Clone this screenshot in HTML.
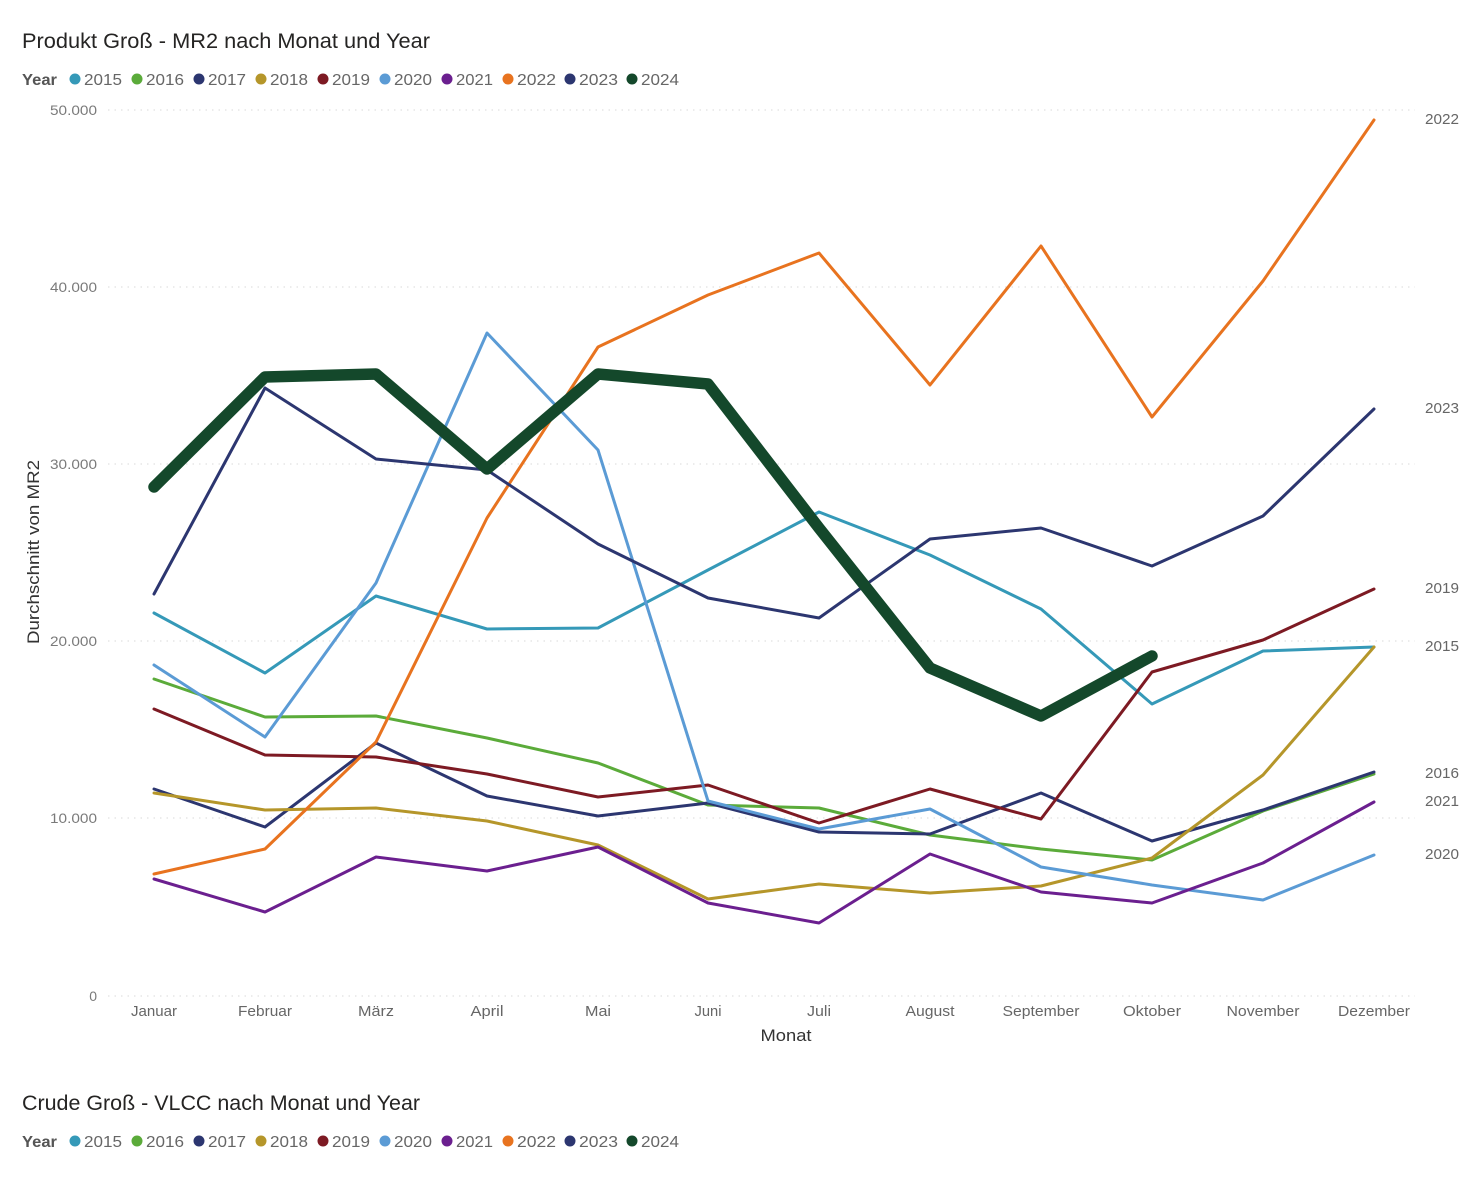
<!DOCTYPE html>
<html>
<head>
<meta charset="utf-8">
<style>
  html, body { margin:0; padding:0; background:#ffffff; }
  body { width:1472px; height:1177px; overflow:hidden; }
  svg { display:block; font-family:"Liberation Sans", "DejaVu Sans", sans-serif; }
</style>
</head>
<body>
<svg width="1472" height="1177" viewBox="0 0 1472 1177" xmlns="http://www.w3.org/2000/svg">
  <rect x="0" y="0" width="1472" height="1177" fill="#ffffff"/>

  <!-- Title -->
  <text x="22" y="48" font-size="21" fill="#252423" textLength="408" lengthAdjust="spacingAndGlyphs">Produkt Groß - MR2 nach Monat und Year</text>

  <!-- Legend -->
  <g font-size="16" fill="#666666">
    <text x="22" y="85" font-weight="bold" fill="#555555" textLength="35" lengthAdjust="spacingAndGlyphs">Year</text>
    <circle cx="75" cy="79" r="5.5" fill="#3599b8"/><text x="84" y="85" textLength="38" lengthAdjust="spacingAndGlyphs">2015</text>
    <circle cx="137" cy="79" r="5.5" fill="#5bab3a"/><text x="146" y="85" textLength="38" lengthAdjust="spacingAndGlyphs">2016</text>
    <circle cx="199" cy="79" r="5.5" fill="#2c3670"/><text x="208" y="85" textLength="38" lengthAdjust="spacingAndGlyphs">2017</text>
    <circle cx="261" cy="79" r="5.5" fill="#b5962a"/><text x="270" y="85" textLength="38" lengthAdjust="spacingAndGlyphs">2018</text>
    <circle cx="323" cy="79" r="5.5" fill="#7d1a23"/><text x="332" y="85" textLength="38" lengthAdjust="spacingAndGlyphs">2019</text>
    <circle cx="385" cy="79" r="5.5" fill="#5b9bd5"/><text x="394" y="85" textLength="38" lengthAdjust="spacingAndGlyphs">2020</text>
    <circle cx="447" cy="79" r="5.5" fill="#6b1f8f"/><text x="456" y="85" textLength="37" lengthAdjust="spacingAndGlyphs">2021</text>
    <circle cx="508" cy="79" r="5.5" fill="#e8731f"/><text x="517" y="85" textLength="39" lengthAdjust="spacingAndGlyphs">2022</text>
    <circle cx="570" cy="79" r="5.5" fill="#2c3670"/><text x="579" y="85" textLength="39" lengthAdjust="spacingAndGlyphs">2023</text>
    <circle cx="632" cy="79" r="5.5" fill="#14482b"/><text x="641" y="85" textLength="38" lengthAdjust="spacingAndGlyphs">2024</text>
  </g>

  <!-- Gridlines -->
  <g stroke="#d9d9d9" stroke-width="1" stroke-dasharray="1.5 5">
    <line x1="108" y1="110" x2="1415" y2="110"/>
    <line x1="108" y1="287" x2="1415" y2="287"/>
    <line x1="108" y1="464" x2="1415" y2="464"/>
    <line x1="108" y1="641" x2="1415" y2="641"/>
    <line x1="108" y1="818" x2="1415" y2="818"/>
    <line x1="108" y1="996" x2="1415" y2="996"/>
  </g>

  <!-- Y tick labels -->
  <g font-size="14" fill="#7a7a7a" text-anchor="end">
    <text x="97" y="115" textLength="47" lengthAdjust="spacingAndGlyphs">50.000</text>
    <text x="97" y="292" textLength="47" lengthAdjust="spacingAndGlyphs">40.000</text>
    <text x="97" y="469" textLength="47" lengthAdjust="spacingAndGlyphs">30.000</text>
    <text x="97" y="646" textLength="47" lengthAdjust="spacingAndGlyphs">20.000</text>
    <text x="97" y="823" textLength="47" lengthAdjust="spacingAndGlyphs">10.000</text>
    <text x="97" y="1001">0</text>
  </g>

  <!-- Y axis title -->
  <text transform="translate(39,552) rotate(-90)" font-size="17" fill="#333333" text-anchor="middle" textLength="184" lengthAdjust="spacingAndGlyphs">Durchschnitt von MR2</text>

  <!-- X tick labels -->
  <g font-size="15" fill="#666666" text-anchor="middle">
    <text x="154" y="1016" textLength="46" lengthAdjust="spacingAndGlyphs">Januar</text>
    <text x="265" y="1016" textLength="54" lengthAdjust="spacingAndGlyphs">Februar</text>
    <text x="376" y="1016" textLength="36" lengthAdjust="spacingAndGlyphs">März</text>
    <text x="487" y="1016" textLength="33" lengthAdjust="spacingAndGlyphs">April</text>
    <text x="598" y="1016" textLength="26" lengthAdjust="spacingAndGlyphs">Mai</text>
    <text x="708" y="1016" textLength="27" lengthAdjust="spacingAndGlyphs">Juni</text>
    <text x="819" y="1016" textLength="24" lengthAdjust="spacingAndGlyphs">Juli</text>
    <text x="930" y="1016" textLength="49" lengthAdjust="spacingAndGlyphs">August</text>
    <text x="1041" y="1016" textLength="77" lengthAdjust="spacingAndGlyphs">September</text>
    <text x="1152" y="1016" textLength="58" lengthAdjust="spacingAndGlyphs">Oktober</text>
    <text x="1263" y="1016" textLength="73" lengthAdjust="spacingAndGlyphs">November</text>
    <text x="1374" y="1016" textLength="72" lengthAdjust="spacingAndGlyphs">Dezember</text>
  </g>

  <!-- X axis title -->
  <text x="786" y="1041" font-size="17" fill="#333333" text-anchor="middle" textLength="51" lengthAdjust="spacingAndGlyphs">Monat</text>

  <!-- Series -->
  <g fill="none" stroke-width="3" stroke-linejoin="round" stroke-linecap="round">
    <polyline stroke="#3599b8" points="154,613 265,673 376,596 487,629 598,628 708,570 819,512 930,555 1041,609 1152,704 1263,651 1374,647"/>
    <polyline stroke="#5bab3a" points="154,679 265,717 376,716 487,738 598,763 708,805 819,808 930,835 1041,849 1152,860 1263,811 1374,774"/>
    <polyline stroke="#2c3670" points="154,789 265,827 376,743 487,796 598,816 708,803 819,832 930,834 1041,793 1152,841 1263,810 1374,772"/>
    <polyline stroke="#b5962a" points="154,793 265,810 376,808 487,821 598,845 708,899 819,884 930,893 1041,886 1152,858 1263,775 1374,647"/>
    <polyline stroke="#7d1a23" points="154,709 265,755 376,757 487,774 598,797 708,785 819,823 930,789 1041,819 1152,672 1263,640 1374,589"/>
    <polyline stroke="#5b9bd5" points="154,665 265,737 376,583 487,333 598,450 708,801 819,829 930,809 1041,867 1152,885 1263,900 1374,855"/>
    <polyline stroke="#6b1f8f" points="154,879 265,912 376,857 487,871 598,847 708,903 819,923 930,854 1041,892 1152,903 1263,863 1374,802"/>
    <polyline stroke="#e8731f" points="154,874 265,849 376,742 487,518 598,347 708,295 819,253 930,385 1041,246 1152,417 1263,281 1374,120"/>
    <polyline stroke="#2c3670" points="154,594 265,388 376,459 487,470 598,544 708,598 819,618 930,539 1041,528 1152,566 1263,516 1374,409"/>
    <polyline stroke="#14482b" stroke-width="11.5" points="154,487 265,377 376,374 487,469 598,374 708,384 819,528 930,668 1041,716 1152,656"/>
  </g>

  <!-- Right-side labels -->
  <g font-size="15" fill="#666666">
    <text x="1425" y="124" textLength="34" lengthAdjust="spacingAndGlyphs">2022</text>
    <text x="1425" y="413" textLength="34" lengthAdjust="spacingAndGlyphs">2023</text>
    <text x="1425" y="593" textLength="34" lengthAdjust="spacingAndGlyphs">2019</text>
    <text x="1425" y="651" textLength="34" lengthAdjust="spacingAndGlyphs">2015</text>
    <text x="1425" y="778" textLength="34" lengthAdjust="spacingAndGlyphs">2016</text>
    <text x="1425" y="806" textLength="34" lengthAdjust="spacingAndGlyphs">2021</text>
    <text x="1425" y="859" textLength="34" lengthAdjust="spacingAndGlyphs">2020</text>
  </g>

  <!-- Second chart title -->
  <text x="22" y="1110" font-size="21" fill="#252423" textLength="398" lengthAdjust="spacingAndGlyphs">Crude Groß - VLCC nach Monat und Year</text>

  <!-- Second legend -->
  <g font-size="16" fill="#666666">
    <text x="22" y="1147" font-weight="bold" fill="#555555" textLength="35" lengthAdjust="spacingAndGlyphs">Year</text>
    <circle cx="75" cy="1141" r="5.5" fill="#3599b8"/><text x="84" y="1147" textLength="38" lengthAdjust="spacingAndGlyphs">2015</text>
    <circle cx="137" cy="1141" r="5.5" fill="#5bab3a"/><text x="146" y="1147" textLength="38" lengthAdjust="spacingAndGlyphs">2016</text>
    <circle cx="199" cy="1141" r="5.5" fill="#2c3670"/><text x="208" y="1147" textLength="38" lengthAdjust="spacingAndGlyphs">2017</text>
    <circle cx="261" cy="1141" r="5.5" fill="#b5962a"/><text x="270" y="1147" textLength="38" lengthAdjust="spacingAndGlyphs">2018</text>
    <circle cx="323" cy="1141" r="5.5" fill="#7d1a23"/><text x="332" y="1147" textLength="38" lengthAdjust="spacingAndGlyphs">2019</text>
    <circle cx="385" cy="1141" r="5.5" fill="#5b9bd5"/><text x="394" y="1147" textLength="38" lengthAdjust="spacingAndGlyphs">2020</text>
    <circle cx="447" cy="1141" r="5.5" fill="#6b1f8f"/><text x="456" y="1147" textLength="37" lengthAdjust="spacingAndGlyphs">2021</text>
    <circle cx="508" cy="1141" r="5.5" fill="#e8731f"/><text x="517" y="1147" textLength="39" lengthAdjust="spacingAndGlyphs">2022</text>
    <circle cx="570" cy="1141" r="5.5" fill="#2c3670"/><text x="579" y="1147" textLength="39" lengthAdjust="spacingAndGlyphs">2023</text>
    <circle cx="632" cy="1141" r="5.5" fill="#14482b"/><text x="641" y="1147" textLength="38" lengthAdjust="spacingAndGlyphs">2024</text>
  </g>
</svg>
</body>
</html>
